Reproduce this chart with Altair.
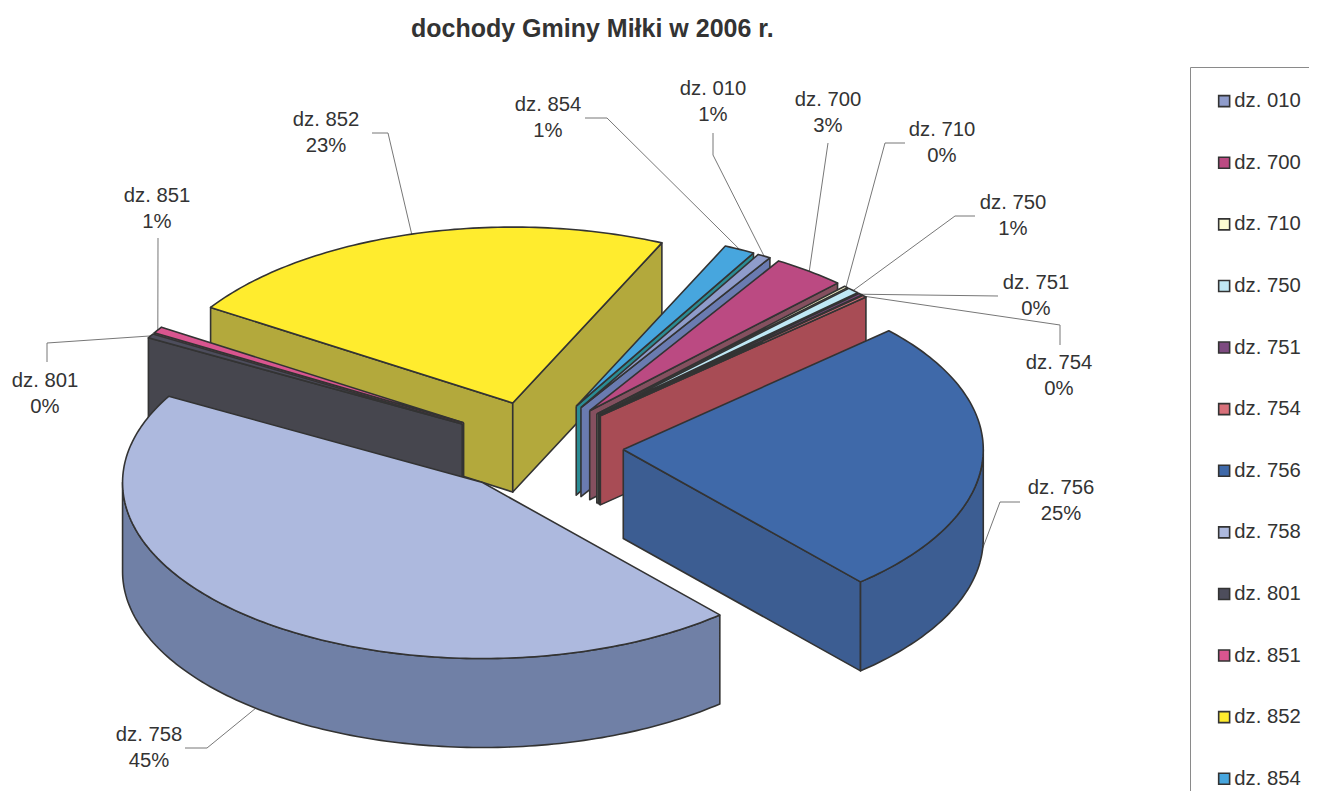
import math
import altair as alt
import pandas as pd

# ---- chart values ----
categories = ["dz. 010", "dz. 700", "dz. 710", "dz. 750", "dz. 751", "dz. 754",
              "dz. 756", "dz. 758", "dz. 801", "dz. 851", "dz. 852", "dz. 854"]
shares = [0.6, 3.3, 0.17, 0.55, 0.2, 0.2, 25.4, 44.7, 0.4, 0.6, 22.7, 1.4]

# ---- styles ----
top_colors = ["#8f9ccb", "#bb4a82", "#fbfbd0", "#bfe8f5", "#7d4a80", "#d8707a",
              "#3f69a9", "#adb9de", "#4d4d5c", "#d9558f", "#ffec2e", "#47a6de"]
side_colors = ["#6a7bb0", "#84505f", "#bcbca0", "#454a4e", "#4a3a52", "#a84c55",
               "#3c5d92", "#7080a6", "#46464e", "#a04070", "#b3a93c", "#2a8c94"]
outline = "#333333"

# ---- 3-D pie layout ----
CX, CY, RX, RY, DEPTH, START = 537, 447, 360, 176, 89, 299.5
EXPLODE_X, EXPLODE_Y = 0.24, 0.26
paint_order = ["dz. 852", "dz. 854", "dz. 010", "dz. 700", "dz. 710", "dz. 750", "dz. 751",
               "dz. 754", "dz. 851", "dz. 801", "dz. 758", "dz. 756"]

# first-line centre of each label, then leader elbow points from the label towards the slice
label_layout = {
    "dz. 010": ((713, 89), [(713, 133), (713, 155)]),
    "dz. 700": ((828, 100), [(828, 143)]),
    "dz. 710": ((942, 130), [(905, 143), (885, 143)]),
    "dz. 750": ((1013, 203), [(975, 216), (955, 216)]),
    "dz. 751": ((1036, 283), [(998, 296)]),
    "dz. 754": ((1059, 363), [(1060, 345), (1060, 325)]),
    "dz. 756": ((1061, 488), [(1020, 502), (1000, 502)]),
    "dz. 758": ((149, 735), [(185, 748), (207, 748)]),
    "dz. 801": ((45, 381), [(47, 362), (47, 343)]),
    "dz. 851": ((157, 196), [(158, 238)]),
    "dz. 852": ((326, 120), [(372, 133), (388, 133)]),
    "dz. 854": ((548, 105), [(585, 118), (607, 118)]),
}

total = sum(shares)
slices = {}
a = START
for c, s, tc, sc in zip(categories, shares, top_colors, side_colors):
    b = a + s / total * 360
    m = math.radians((a + b) / 2)
    slices[c] = dict(a=a, b=b, top=tc, side=sc, share=s,
                     ax=CX + EXPLODE_X * RX * math.cos(m), ay=CY + EXPLODE_Y * RY * math.sin(m))
    a = b


def rim(s, t, dz=0):
    r = math.radians(t)
    return (s["ax"] + RX * math.cos(r), s["ay"] + RY * math.sin(r) + dz)


def arc(s, lo, hi, dz=0):
    n = max(2, int((hi - lo) / 1.0) + 2)
    return [rim(s, lo + (hi - lo) * i / (n - 1), dz) for i in range(n)]


polys = []


def add(points, color):
    pid = len(polys)
    pts = points + [points[0]]
    polys.extend(dict(poly=pid, seq=i, px=p[0], py=p[1], col=color) for i, p in enumerate(pts))


for c in paint_order:
    s = slices[c]
    apex = (s["ax"], s["ay"])
    apex_low = (s["ax"], s["ay"] + DEPTH)
    for t, vis in ((s["a"], math.cos(math.radians(s["a"])) < 0),
                   (s["b"], math.cos(math.radians(s["b"])) > 0)):
        if vis:
            e = rim(s, t)
            add([apex, e, (e[0], e[1] + DEPTH), apex_low], s["side"])
    for k in (0, 360):
        lo, hi = max(s["a"], k), min(s["b"], k + 180)
        if hi > lo:
            add(arc(s, lo, hi) + arc(s, lo, hi, DEPTH)[::-1], s["side"])
    add([apex] + arc(s, s["a"], s["b"]), s["top"])

poly_df = pd.DataFrame(polys)

leaders, labels = [], []
for c in categories:
    s = slices[c]
    mid = (s["a"] + s["b"]) / 2
    front = 0 < math.sin(math.radians(mid))
    centre, elbows = label_layout[c]
    path = elbows + [rim(s, mid, DEPTH if front else 0)]
    leaders.extend(dict(cat=c, seq=i, px=p[0], py=p[1]) for i, p in enumerate(path))
    labels.append(dict(cat=c, px=centre[0], py=centre[1],
                       txt=f"{c}\n{int(s['share'] + 0.5)}%"))

PAD_TOP = 40
X = alt.X("px:Q", scale=alt.Scale(domain=[8, 1309], nice=False, zero=False), axis=None)
Y = alt.Y("py:Q", scale=alt.Scale(domain=[791, 8 + PAD_TOP], nice=False, zero=False), axis=None)

# legend swatches come from the categories; the points sit under the 758 top face
legend_df = pd.DataFrame({"cat": categories, "px": 400, "py": 520})
legend_layer = alt.Chart(legend_df).mark_point(shape="square", filled=True, size=6).encode(
    x=X, y=Y,
    color=alt.Color("cat:N",
                    scale=alt.Scale(domain=categories, range=top_colors),
                    sort=categories,
                    legend=alt.Legend(title=None, orient="none", legendX=1182, legendY=19,
                                      padding=24, fillColor="white", strokeColor="#8a8a8a",
                                      symbolType="square", symbolSize=120,
                                      symbolStrokeColor=outline, symbolStrokeWidth=1.6,
                                      symbolOpacity=1,
                                      labelFont="Liberation Sans", labelFontSize=20.3,
                                      labelColor="#333333", labelOffset=0,
                                      rowPadding=40.6, labelLimit=200)),
)

poly_layer = alt.Chart(poly_df).mark_line(filled=True, stroke=outline, strokeWidth=1.6,
                                          strokeJoin="round").encode(
    x=X, y=Y, order="seq:Q", detail="poly:N", fill=alt.Fill("col:N", scale=None),
)

leader_layer = alt.Chart(pd.DataFrame(leaders)).mark_line(color="#777777", strokeWidth=1).encode(
    x=X, y=Y, order="seq:Q", detail="cat:N",
)

label_layer = alt.Chart(pd.DataFrame(labels)).mark_text(
    font="Liberation Sans", fontSize=20.3, color="#333333", lineBreak="\n", lineHeight=26,
    align="center", baseline="middle",
).encode(x=X, y=Y, text="txt:N")

chart = alt.layer(legend_layer, leader_layer, poly_layer, label_layer).properties(
    width=1301, height=791 - 8 - PAD_TOP,
    padding={"left": 0, "top": PAD_TOP, "right": 0, "bottom": 0},
    autosize=alt.AutoSizeParams(type="none"),
    background="white",
    title=alt.TitleParams("dochody Gminy Miłki w 2006 r.", anchor="start", dx=403, offset=6,
                          font="Liberation Sans", fontSize=25, fontWeight="bold", color="#333333"),
).configure_view(stroke=None)

chart.save("out.html", embed_options={"renderer": "svg", "actions": False})
